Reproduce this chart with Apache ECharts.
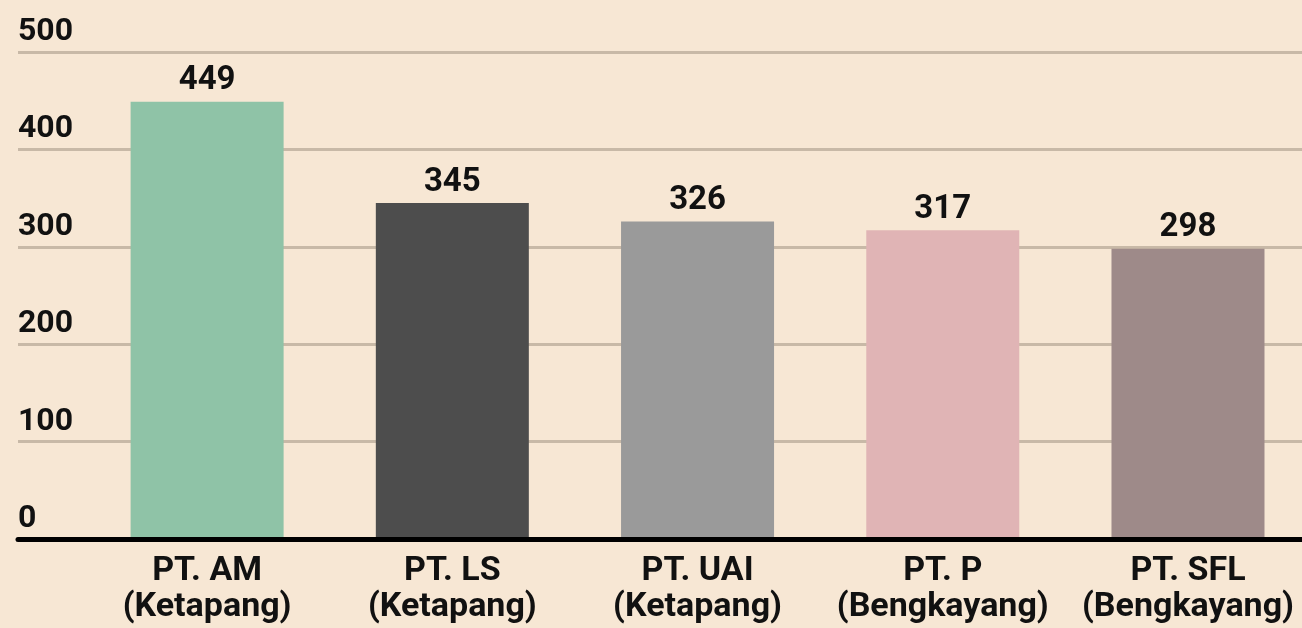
<!DOCTYPE html>
<html>
<head>
<meta charset="utf-8">
<script src="https://cdn.jsdelivr.net/npm/echarts@6/dist/echarts.min.js"></script>
<style>
  html, body { margin: 0; padding: 0; background: #f7e7d4; }
  #chart { width: 1302px; height: 628px; }
</style>
</head>
<body>
<div id="chart"></div>
<script>
// data
var companies = ['PT. AM\n(Ketapang)', 'PT. LS\n(Ketapang)', 'PT. UAI\n(Ketapang)', 'PT. P\n(Bengkayang)', 'PT. SFL\n(Bengkayang)'];
var workers = [449, 345, 326, 317, 298];
var barColors = ['#8fc3a7', '#4d4d4d', '#9a9a9a', '#e0b4b5', '#9e8a89'];
var yTicks = [0, 100, 200, 300, 400, 500];

var chart = echarts.init(document.getElementById('chart'));

var font = 'Roboto, "Noto Sans", sans-serif';

chart.setOption({
  backgroundColor: '#f7e7d4',
  animation: false,
  textStyle: { fontFamily: font },
  grid: [
    // grid lines + y labels, full width
    { left: 18, right: 0, top: 52, bottom: 89, outerBoundsMode: 'none', containLabel: false },
    // bars
    { left: 84.5, right: -8.6, top: 52, bottom: 89, outerBoundsMode: 'none', containLabel: false }
  ],
  xAxis: [{
    gridIndex: 0,
    type: 'category',
    data: [''],
    z: 5,
    axisTick: { show: false },
    axisLabel: { show: false },
    axisLine: { lineStyle: { color: '#000', width: 5 } }
  }, {
    gridIndex: 1,
    type: 'category',
    data: companies,
    axisLine: { show: false },
    axisTick: { show: false },
    axisLabel: {
      color: '#111',
      fontSize: 34,
      fontWeight: 'bold',
      lineHeight: 36,
      margin: 14,
      interval: 0,
      hideOverlap: false
    }
  }],
  yAxis: [{
    gridIndex: 0,
    type: 'value',
    min: yTicks[0],
    max: yTicks[yTicks.length - 1],
    interval: 100,
    axisLine: { show: false },
    axisTick: { show: false },
    axisLabel: {
      color: '#111',
      fontSize: 32,
      fontWeight: 'bold',
      align: 'left',
      verticalAlign: 'bottom',
      margin: 0,
      padding: [0, 0, 4, 0]
    },
    splitLine: { lineStyle: { color: '#c8b9a7', width: 3 } }
  }, {
    gridIndex: 1,
    type: 'value',
    min: 0,
    max: 500,
    show: false
  }],
  series: [{
    type: 'bar',
    xAxisIndex: 1,
    yAxisIndex: 1,
    barWidth: 153,
    data: workers.map(function (v, i) {
      return { value: v, itemStyle: { color: barColors[i] } };
    }),
    label: {
      show: true,
      position: 'top',
      distance: 4,
      color: '#111',
      fontSize: 33,
      fontWeight: 'bold'
    }
  }]
});
</script>
</body>
</html>
